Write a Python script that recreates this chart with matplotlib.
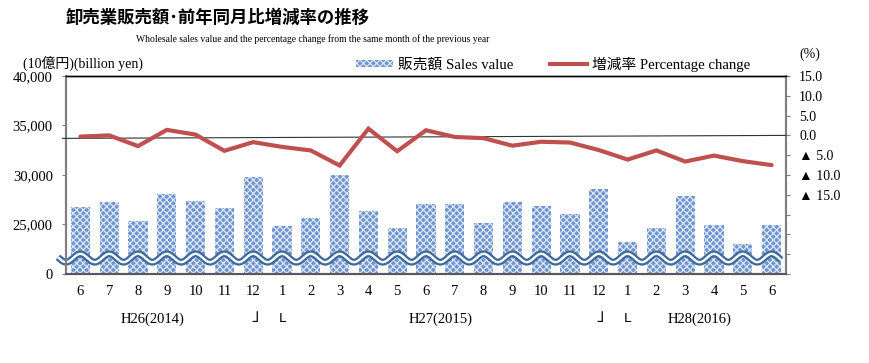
import matplotlib
matplotlib.use('Agg')
import matplotlib.pyplot as plt
import numpy as np
from matplotlib.patches import Patch
from matplotlib.lines import Line2D
import matplotlib.transforms as mtransforms

months = ['6', '7', '8', '9', '10', '11', '12', '1', '2', '3', '4', '5', '6',
          '7', '8', '9', '10', '11', '12', '1', '2', '3', '4', '5', '6']
sales = [26750, 27250, 25350, 28100, 27350, 26650, 29800, 24800, 25650, 29950,
         26350, 24650, 27050, 27050, 25150, 27250, 26850, 26050, 28600, 23250,
         24650, 27900, 24950, 23050, 24950]
pct = [-0.3, 0.0, -2.7, 1.4, 0.2, -3.9, -1.7, -2.9, -3.8, -7.6, 1.7, -4.0, 1.3,
       -0.4, -0.7, -2.6, -1.6, -1.8, -3.7, -6.1, -3.8, -6.6, -5.1, -6.5, -7.5]
year_labels = ['H26(2014)', 'H27(2015)', 'H28(2016)']
year_pos = [2.5, 12.5, 21.5]
left_ticks = [20000, 25000, 30000, 35000, 40000]
left_ticklabels = ['0', '25,000', '30,000', '35,000', '40,000']
right_ticks = [15, 10, 5, 0, -5, -10, -15, -20, -25, -30, -35]
right_ticklabels = ['15.0', '10.0', '5.0', '0.0', '▲ 5.0', '▲ 10.0', '▲ 15.0', '', '', '', '']

SERIF = ['Liberation Serif', 'Noto Sans CJK JP', 'DejaVu Sans']
plt.rcParams['font.family'] = SERIF
plt.rcParams['hatch.linewidth'] = 0.9

fig = plt.figure(figsize=(8.69, 3.63), dpi=100)
ax = fig.add_axes([66/869, 89/363, 720/869, 198/363])
ax2 = ax.twinx()

x = np.arange(len(months))
bar_fc = '#6F95CF'
hatch_c = '#DCE5F4'
ax.bar(x, sales, width=0.66, color=bar_fc, hatch='xxxxx',
       edgecolor=hatch_c, linewidth=0, zorder=2)
ax.set_xlim(-0.5, len(months) - 0.5)
ax.set_ylim(20000, 40000)
ax.set_yticks(left_ticks)
ax.set_yticklabels(left_ticklabels)
ax.set_xticks(x)
ax.set_xticklabels(months)
ax.tick_params(axis='y', direction='out', length=3, width=0.8, color='#7F7F7F',
               labelsize=10.5, pad=6.5)
ax.tick_params(axis='x', length=0, labelsize=10.5, pad=8)

# break mark (decorative double wavy line)
wx = np.linspace(-0.78, 24.33, 800)
wy = 21616 + 420 * np.cos(2 * np.pi * wx)
ax.plot(wx, wy, color='#3F6A9A', lw=5.0, zorder=4, clip_on=False, solid_capstyle='butt')
ax.plot(wx, wy, color='white', lw=1.7, zorder=5, clip_on=False, solid_capstyle='butt')

ax2.set_ylim(-35, 15)
ax2.set_yticks(right_ticks)
ax2.set_yticklabels(right_ticklabels)
ax2.tick_params(axis='y', direction='out', length=3, width=0.8, color='#7F7F7F',
                labelsize=10, pad=6.5)
for lab in ax2.get_yticklabels():
    lab.set_horizontalalignment('left')

trans = mtransforms.blended_transform_factory(ax2.transAxes, ax2.transData)
ax2.plot([-0.005, 1], [-0.75, 0], color='#333333', lw=0.8, transform=trans,
         clip_on=False, zorder=3)
ax2.plot(x, pct, color='#C0504D', lw=3.0, zorder=6, solid_capstyle='round',
         solid_joinstyle='miter')

for a in (ax, ax2):
    a.spines['left'].set_color('#7F7F7F')
    a.spines['right'].set_color('#7F7F7F')
    a.spines['bottom'].set_color('#595959')
    a.spines['top'].set_color('#000000')
    for s in a.spines.values():
        s.set_linewidth(1.0)
    a.spines['left'].set_linewidth(1.5)
    a.spines['right'].set_linewidth(1.5)
    a.spines['bottom'].set_linewidth(1.5)

# year labels and bracket markers
tr = mtransforms.blended_transform_factory(ax.transData, ax.transAxes)
for lbl, p in zip(year_labels, year_pos):
    ax.text(p, -0.227, lbl, transform=tr, ha='center', va='center', fontsize=10.5)
for p in (6, 18):
    ax.text(p + 0.22, -0.215, '」', transform=tr, ha='center', va='center', fontsize=12,
            family=['Noto Sans CJK JP'])
for p in (7, 19):
    ax.text(p, -0.225, 'L', transform=tr, ha='center', va='center', fontsize=9.5,
            family=['DejaVu Sans'])

# titles and axis captions
fig.text(217/869, 1 - 18/363, '卸売業販売額･前年同月比増減率の推移', ha='center', va='center',
         fontsize=12.5, fontweight='bold', family=['Noto Sans CJK JP', 'DejaVu Sans'])
fig.text(313/869, 1 - 39/363,
         'Wholesale sales value and the percentage change from the same month of the previous year',
         ha='center', va='center', fontsize=6.9)
fig.text(23/869, 1 - 63/363, '(10億円)(billion yen)', ha='left', va='center', fontsize=10)
fig.text(799/869, 1 - 54/363, '(%)', ha='left', va='center', fontsize=10)

handles = [Patch(facecolor=bar_fc, hatch='xxxxx', edgecolor=hatch_c, linewidth=0),
           Line2D([0], [0], color='#C0504D', lw=3.0)]
labels = ['販売額 Sales value', '増減率 Percentage change']
fig.legend(handles, labels, ncol=2, loc='center', bbox_to_anchor=(553/869, 1 - 64/363),
           frameon=False, fontsize=10.6, handlelength=2.5, handleheight=0.4,
           handletextpad=0.35, columnspacing=2.5, borderpad=0)

fig.savefig('out.png', dpi=100)
